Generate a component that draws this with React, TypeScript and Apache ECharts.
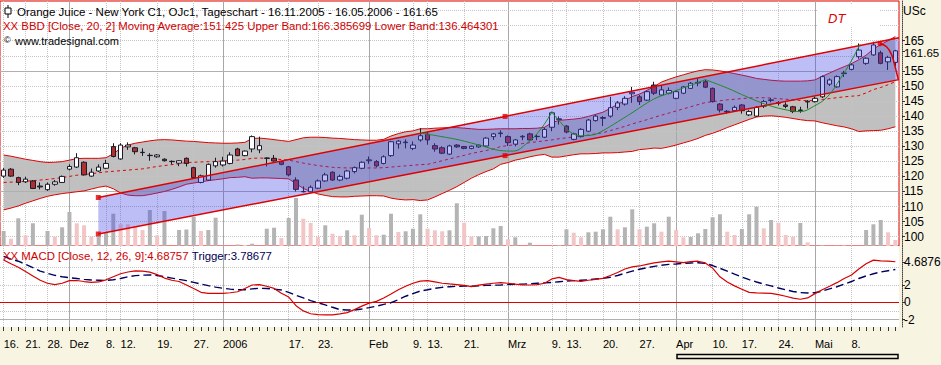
import React, { useEffect, useRef } from "react";
import * as echarts from "echarts";

// ---------- DATA ----------
const dates = [
  "2005-11-16","2005-11-17","2005-11-18","2005-11-21","2005-11-22","2005-11-23","2005-11-28","2005-11-29","2005-11-30",
  "2005-12-01","2005-12-02","2005-12-05","2005-12-06","2005-12-07","2005-12-08","2005-12-09","2005-12-12","2005-12-13","2005-12-14","2005-12-15","2005-12-16","2005-12-19","2005-12-20","2005-12-21","2005-12-22","2005-12-23","2005-12-27","2005-12-28","2005-12-29","2005-12-30",
  "2006-01-03","2006-01-04","2006-01-05","2006-01-06","2006-01-09","2006-01-10","2006-01-11","2006-01-12","2006-01-13","2006-01-17","2006-01-18","2006-01-19","2006-01-20","2006-01-23","2006-01-24","2006-01-25","2006-01-26","2006-01-27","2006-01-30","2006-01-31",
  "2006-02-01","2006-02-02","2006-02-03","2006-02-06","2006-02-07","2006-02-08","2006-02-09","2006-02-10","2006-02-13","2006-02-14","2006-02-15","2006-02-16","2006-02-17","2006-02-21","2006-02-22","2006-02-23","2006-02-24","2006-02-27","2006-02-28",
  "2006-03-01","2006-03-02","2006-03-03","2006-03-06","2006-03-07","2006-03-08","2006-03-09","2006-03-10","2006-03-13","2006-03-14","2006-03-15","2006-03-16","2006-03-17","2006-03-20","2006-03-21","2006-03-22","2006-03-23","2006-03-24","2006-03-27","2006-03-28","2006-03-29","2006-03-30","2006-03-31",
  "2006-04-03","2006-04-04","2006-04-05","2006-04-06","2006-04-07","2006-04-10","2006-04-11","2006-04-12","2006-04-13","2006-04-17","2006-04-18","2006-04-19","2006-04-20","2006-04-21","2006-04-24","2006-04-25","2006-04-26","2006-04-27","2006-04-28",
  "2006-05-01","2006-05-02","2006-05-03","2006-05-04","2006-05-05","2006-05-08","2006-05-09","2006-05-10","2006-05-11","2006-05-12","2006-05-15","2006-05-16"
];

const xLabels: [string, string][] = [
  ["2005-11-16","16."],["2005-11-21","21."],["2005-11-28","28."],["2005-12-01","Dez"],["2005-12-08","8."],["2005-12-12","12."],
  ["2005-12-19","19."],["2005-12-27","27."],["2006-01-03","2006"],["2006-01-17","17."],["2006-01-23","23."],["2006-02-01","Feb"],
  ["2006-02-09","9."],["2006-02-13","13."],["2006-02-21","21."],["2006-03-01","Mrz"],["2006-03-09","9."],["2006-03-13","13."],
  ["2006-03-20","20."],["2006-03-27","27."],["2006-04-03","Apr"],["2006-04-10","10."],["2006-04-17","17."],["2006-04-24","24."],
  ["2006-05-01","Mai"],["2006-05-08","8."]
];
const monthStarts = ["2005-12-01","2006-01-03","2006-02-01","2006-03-01","2006-04-03","2006-05-01"];

const opens = [120.1,122.4,119.6,118.2,118.5,116.8,115.6,117.4,118.0,122.4,
123.1,124.7,120.1,121.8,122.7,129.9,125.8,129.8,129.5,128.0,
127.0,126.5,125.7,125.0,124.4,126.0,122.9,118.0,118.8,123.5,
123.8,124.3,129.1,126.9,129.1,128.8,126.1,126.0,124.9,123.2,
118.8,115.0,114.9,116.1,118.5,121.4,118.8,119.4,121.6,122.7,
125.2,124.9,124.3,126.9,130.8,131.2,129.3,132.1,134.0,130.2,
129.5,127.4,130.4,129.9,129.3,129.8,130.1,133.2,134.2,133.2,
130.7,133.1,134.1,133.3,133.0,136.3,139.1,136.7,132.3,133.2,
135.0,138.5,139.5,140.0,142.9,144.0,147.4,146.4,145.3,150.3,
147.0,147.6,145.9,147.6,149.2,151.0,151.4,149.2,144.0,141.6,
141.8,143.7,140.4,140.0,143.3,145.2,144.5,143.7,143.1,142.0,
144.7,144.8,146.4,150.6,149.7,154.1,155.5,159.7,157.5,160.3,
161.0,158.0,157.8];

const closes = [122.1,120.1,118.0,119.1,116.0,116.5,117.4,118.2,120.0,123.3,
126.2,120.5,121.4,123.1,124.3,126.6,130.4,130.4,128.2,127.9,
126.9,127.1,125.2,124.9,125.2,124.3,119.6,120.2,124.0,124.9,
125.1,127.1,126.9,128.4,133.2,130.2,126.0,125.1,124.0,120.5,
115.7,114.9,116.4,118.5,120.5,118.8,120.0,121.8,122.9,124.7,
125.5,123.5,126.5,131.5,131.7,131.4,130.4,133.5,132.1,129.1,
127.7,130.1,129.8,129.3,130.0,130.4,132.7,134.1,134.4,131.2,
132.1,133.3,132.1,133.2,135.6,141.1,138.9,134.7,134.1,135.6,
138.7,140.0,139.3,142.8,144.4,145.9,147.9,144.8,148.1,147.6,
148.7,148.5,148.1,149.7,150.9,151.2,149.6,144.8,142.0,141.4,
142.9,141.8,141.5,142.9,144.8,145.4,144.3,143.2,141.5,141.9,
144.9,145.9,153.1,152.0,153.1,154.3,157.0,161.9,159.2,163.6,
157.5,159.5,161.65];

const lows = [119.5,119.8,117.1,117.8,115.8,115.7,115.2,116.9,117.8,122.0,
122.8,120.3,119.9,121.5,122.4,126.3,125.5,128.8,127.3,126.8,
125.2,126.2,124.9,124.0,123.4,123.3,119.3,117.7,118.5,122.9,
123.3,124.0,126.7,126.7,128.0,127.7,123.3,124.9,123.7,120.0,
115.0,114.7,114.6,115.8,118.2,118.5,118.4,119.0,121.0,122.4,
124.2,123.0,124.0,126.5,129.2,129.3,128.7,131.5,130.5,128.2,
127.4,127.1,129.5,129.0,129.0,129.5,129.8,132.1,133.0,130.1,
130.0,132.0,131.9,132.0,132.7,135.0,137.2,134.3,132.0,132.9,
134.7,138.2,136.7,139.5,142.0,143.5,144.4,143.7,145.0,147.0,
146.7,147.2,145.6,147.3,149.0,149.9,149.3,144.5,141.2,140.8,
141.4,140.8,140.0,139.7,142.7,144.6,143.5,142.6,141.0,141.1,
142.5,144.5,146.0,150.0,149.4,153.0,155.2,159.0,157.0,160.0,
157.2,155.3,156.5];

const highs = [122.8,122.8,119.9,119.9,118.8,118.0,118.0,118.8,120.3,124.0,
127.7,125.0,122.6,124.0,125.5,131.0,131.0,131.3,129.8,129.3,
127.7,127.4,126.0,125.3,125.3,126.3,123.2,120.6,124.3,126.2,
126.5,128.0,129.5,128.6,133.6,133.2,126.3,127.1,125.0,123.5,
119.7,116.7,117.0,119.0,121.2,121.7,120.6,122.2,123.3,125.0,
126.6,125.4,127.0,131.8,132.0,132.3,131.6,136.0,134.8,131.0,
130.0,130.5,130.7,130.1,130.2,130.6,133.0,134.4,135.3,133.6,
132.4,133.7,134.5,134.0,136.2,141.5,139.9,137.0,134.5,136.0,
139.0,140.5,140.0,146.4,145.0,146.6,149.7,147.0,148.5,151.4,
150.3,149.5,148.5,150.0,151.3,152.4,152.0,149.5,144.3,142.0,
143.5,144.0,142.0,143.3,145.4,146.0,145.0,144.6,143.4,143.1,
145.3,146.5,153.5,152.5,153.5,155.0,157.5,164.1,159.5,164.7,
161.7,160.0,162.0];

const volumes = [1500,730,2770,1070,2270,0,1500,930,1870,3400,
2270,2070,930,950,1330,3230,2170,2170,1930,1600,
3600,1070,3500,0,1600,1650,2930,1500,1600,2830,
0,0,150,100,230,0,1730,1830,800,2800,
4800,2730,2300,900,2070,1230,1000,1570,1070,3130,
1800,1070,1130,3230,1400,1470,1730,3170,1730,1570,
1470,1570,4270,2330,930,950,1000,1770,2000,670,
870,0,330,0,0,0,100,1670,1330,870,
1370,1430,1670,2930,1670,1870,3670,1670,1930,2270,
1430,2930,1600,870,900,1270,1700,2870,3170,1430,
1100,1700,3170,3930,1770,2600,2330,1100,900,2300,
370,0,100,0,50,50,0,0,1600,2170,
2600,1370,600];

const bbMiddle = [118.0,118.1,118.2,118.4,118.6,118.8,119.0,119.3,119.6,120.0,
120.4,120.6,120.9,121.2,121.5,121.7,121.9,122.1,122.3,122.5,
122.9,123.3,123.6,123.9,124.2,124.6,124.7,124.8,124.9,125.0,
125.1,125.3,125.4,125.6,126.0,126.1,126.0,125.8,125.6,125.4,
124.9,124.4,124.0,123.6,123.3,123.0,122.9,122.8,122.8,122.8,
122.8,122.8,122.9,123.1,123.3,123.5,123.7,123.9,124.0,124.6,
125.2,125.8,126.4,127.0,127.6,128.1,128.6,129.1,129.9,130.2,
130.6,130.9,131.2,131.5,131.8,132.1,132.5,132.8,133.1,133.4,
133.7,134.1,134.5,135.2,135.9,136.6,137.4,138.1,138.8,139.6,
140.3,141.0,141.7,142.4,143.1,143.8,144.5,144.8,145.1,145.4,
145.6,145.8,146.0,146.1,146.1,146.0,145.8,145.6,145.4,145.2,
145.1,145.2,145.5,145.8,146.1,146.4,146.6,146.8,147.7,148.8,
149.5,150.4,151.425];

const bbUpper = [127.1,126.7,126.2,125.7,125.3,124.9,124.6,124.7,124.9,125.4,
125.9,126.0,126.0,126.0,126.2,127.5,129.3,130.4,131.0,131.4,
131.8,132.1,132.2,132.1,131.9,131.7,131.6,131.4,131.2,131.1,
131.0,131.0,131.1,131.3,132.6,132.7,132.5,132.2,131.9,131.6,
132.2,132.8,133.0,133.0,132.9,132.7,132.6,132.4,132.2,132.1,
132.0,132.0,132.3,133.4,134.2,134.8,135.1,135.8,135.8,136.0,
136.1,136.2,136.2,136.0,135.8,135.6,135.6,135.7,135.8,135.8,
135.8,135.9,135.9,136.0,136.3,137.8,138.6,138.8,139.0,139.3,
139.9,140.6,141.3,142.6,143.9,145.1,146.5,147.3,148.5,149.8,
151.3,152.2,153.0,153.7,154.4,155.0,155.4,155.3,155.0,154.6,
154.1,153.6,153.1,152.5,152.2,151.9,151.7,151.6,151.6,151.6,
151.7,152.0,153.2,154.3,155.4,156.4,157.4,158.7,160.2,162.3,
163.7,165.0,166.385699];

const bbLower = [108.9,109.5,110.2,111.1,111.9,112.7,113.4,113.9,114.3,114.6,
114.9,115.2,115.8,116.4,116.8,115.9,114.5,113.8,113.6,113.6,
114.0,114.5,115.0,115.7,116.5,117.4,117.8,118.2,118.6,118.9,
119.2,119.6,119.7,119.9,119.4,119.5,119.5,119.4,119.3,119.2,
117.6,116.0,115.0,114.2,113.7,113.3,113.2,113.2,113.4,113.5,
113.6,113.6,113.5,112.8,112.4,112.2,112.3,112.0,112.2,113.2,
114.3,115.4,116.6,118.0,119.4,120.6,121.6,122.5,124.0,124.6,
125.4,125.9,126.5,127.0,127.3,126.4,126.4,126.8,127.2,127.5,
127.5,127.6,127.8,127.8,127.9,128.1,128.3,128.9,129.1,129.4,
129.3,129.8,130.4,131.1,131.8,132.6,133.6,134.3,135.2,136.2,
137.1,138.0,138.9,139.7,140.0,140.1,139.9,139.6,139.2,138.8,
138.5,138.4,137.8,137.3,136.8,136.4,135.8,134.9,135.1,135.2,
135.3,135.8,136.464301];

const macd = [4.89,4.45,4.05,3.55,3.05,2.55,2.2,2.05,2.2,2.5,
2.52,2.4,2.3,2.35,2.6,2.95,3.3,3.5,3.63,3.6,
3.48,3.2,2.8,2.55,2.4,2.0,1.6,1.15,1.03,1.03,
1.04,1.1,1.22,1.6,2.0,2.05,1.85,1.6,1.05,0.6,
-0.4,-1.0,-1.33,-1.42,-1.46,-1.45,-1.35,-1.2,-0.85,-0.45,
-0.1,0.1,0.5,0.95,1.45,1.85,2.2,2.45,2.5,2.35,
2.2,2.12,2.05,1.95,1.82,1.98,2.1,2.2,2.27,2.2,
2.1,2.02,2.0,2.05,2.2,2.7,2.88,2.62,2.5,2.42,
2.55,2.65,2.77,3.1,3.45,3.85,4.1,4.2,4.38,4.55,
4.68,4.77,4.68,4.58,4.7,4.75,4.55,3.95,2.95,2.35,
1.9,1.5,1.15,1.08,1.05,1.02,0.88,0.7,0.48,0.35,
0.5,1.0,1.45,1.85,2.27,2.75,3.15,3.85,4.45,4.88,
4.8,4.77,4.68757];

const trigger = [5.3,5.0,4.75,4.4,4.0,3.6,3.35,3.12,2.95,2.85,
2.75,2.65,2.58,2.55,2.52,2.6,2.75,2.95,3.08,3.14,
3.16,3.1,2.95,2.8,2.65,2.5,2.3,2.1,1.92,1.75,
1.62,1.52,1.45,1.45,1.55,1.62,1.6,1.52,1.42,1.15,
0.8,0.5,0.2,-0.05,-0.3,-0.58,-0.85,-0.9,-0.9,-0.78,
-0.62,-0.45,-0.25,-0.05,0.3,0.7,1.0,1.3,1.45,1.62,
1.73,1.8,1.85,1.88,1.85,1.9,1.95,1.98,2.0,2.05,
2.08,2.1,2.15,2.2,2.25,2.3,2.38,2.45,2.5,2.55,
2.6,2.7,2.77,2.9,3.1,3.35,3.6,3.82,4.0,4.15,
4.28,4.38,4.43,4.5,4.55,4.58,4.5,4.25,3.93,3.6,
3.25,2.92,2.62,2.35,2.1,1.9,1.65,1.45,1.25,1.12,
1.08,1.1,1.3,1.55,1.8,2.1,2.4,2.75,3.05,3.3,
3.5,3.65,3.78677];

// trend channel (bar-index position, price)
const channelX = [12.95, 68.6, 122.5];
const channelUpper = [113.0, 139.9, 166.0];
const channelLower = [100.9, 126.9, 152.1];

// hand-drawn arcs (bar-index position, price)
const arc1: [number, number][] = [[57,134.4],[59.7,133.3],[62.5,132.0],[65.2,130.3],[67.9,128.6],[69.7,128.4],[71.6,131.0],[73.4,135.4],[75,141.3]];
const arc2: [number, number][] = [[75,141.3],[75.8,139.0],[77.5,134.8],[78.9,133.5],[80.7,133.8],[82,135.2],[83.4,137.2],[86.1,141.3],[88.9,145.6],[90.8,147.4],[94.3,150.5],[96,152.1]];
const arc3: [number, number][] = [[96,152.1],[99,149.3],[101.7,146.4],[104.5,143.7],[107.2,142.0],[109,141.5],[110.8,143.2],[112.7,146.4],[114.5,152.5],[115.9,158.0],[117.2,163.9]];
const dtArc: [number, number][] = [[119.9,164.0],[120.8,163.0],[121.5,160.3],[121.9,157.0],[122.4,152.2]];

const priceTicks = [100,105,110,115,120,125,130,135,140,145,150,155,165];
const priceGridMinor = [100,105,110,120,125,130,135,140,145,150,160,165,170,175];
const priceGridMajor = [115,155];
const macdTicks = [-2,0,2];
const macdGridDotted = [4,2,-1];
const macdGridSolid = [-2];

const lastClose = 161.65;
const bbLegend = { ma: 151.425, up: 166.385699, lo: 136.464301 };
const macdLast = 4.68757;
const triggerLast = 3.78677;

// ---------- CHART ----------
const FONT = "'Liberation Sans', Arial, sans-serif";
const RED = "#e00000";
const HIDDEN_LINE = { color: "rgba(0,0,0,0)", width: 0 };

export default function App() {
  const ref = useRef<HTMLDivElement>(null);
  useEffect(() => {
    document.body.style.margin = "0";
    const chart = echarts.init(ref.current as HTMLDivElement, null, { renderer: "svg" });
    const labelMap: Record<string, string> = {};
    xLabels.forEach(([d, l]) => (labelMap[d] = l));
    const labelIdx = new Set(xLabels.map(([d]) => dates.indexOf(d)));
    const monthSet = new Set(monthStarts);
    const vLines = xLabels.map(([d]) => ({
      xAxis: d,
      lineStyle: monthSet.has(d)
        ? { color: "#a8a8a8", type: "solid", width: 1 }
        : { color: "#c4c4c4", type: "dotted", width: 1 },
    }));
    const priceH = [
      ...priceGridMinor.map((v) => ({ yAxis: v, lineStyle: { color: "#c4c4c4", type: "dotted", width: 1 } })),
      ...priceGridMajor.map((v) => ({ yAxis: v, lineStyle: { color: "#b0b0b0", type: "solid", width: 1 } })),
    ];
    const macdH = [
      ...macdGridDotted.map((v) => ({ yAxis: v, lineStyle: { color: "#c4c4c4", type: "dotted", width: 1 } })),
      ...macdGridSolid.map((v) => ({ yAxis: v, lineStyle: { color: "#b0b0b0", type: "solid", width: 1 } })),
    ];
    const n = dates.length;
    const xMin = -0.5, xMax = n - 0.5;

    const option: any = {
      animation: false,
      backgroundColor: "transparent",
      grid: [
        { left: 0, top: 1, width: 899, height: 245, show: true, backgroundColor: "#ffffff", borderColor: RED, borderWidth: 1 },
        { left: 0, top: 246, width: 899, height: 81, show: true, backgroundColor: "#ffffff", borderWidth: 0 },
      ],
      xAxis: [
        { type: "category", gridIndex: 0, data: dates, boundaryGap: true, show: false, axisLine: { onZero: false } },
        { type: "value", gridIndex: 0, min: xMin, max: xMax, show: false, axisLine: { onZero: false } },
        {
          type: "category", gridIndex: 1, data: dates, boundaryGap: true, position: "bottom",
          axisLine: { show: false, onZero: false },
          axisTick: { show: true, alignWithLabel: true, interval: 0, length: 4, lineStyle: { color: "#333" } },
          axisLabel: {
            interval: (idx: number) => labelIdx.has(idx),
            formatter: (v: string) => labelMap[v] || "",
            align: "left", fontSize: 11, color: "#000", fontFamily: FONT, margin: 11, hideOverlap: false,
          },
          splitLine: { show: false },
        },
      ],
      yAxis: [
        {
          type: "value", gridIndex: 0, position: "right", min: 96.92, max: 178.18, offset: 3,
          axisLine: { show: true, onZero: false, lineStyle: { color: "#444", type: "dotted" } },
          axisTick: { show: true, length: 3, customValues: [...priceTicks, lastClose], lineStyle: { color: "#333" } },
          axisLabel: { customValues: priceTicks, fontSize: 12, lineHeight: 10, color: "#000", fontFamily: FONT, margin: 2 },
          splitLine: { show: false },
        },
        { type: "value", gridIndex: 0, min: 0, max: 24500, show: false },
        {
          type: "value", gridIndex: 1, position: "right", min: -2.86, max: 6.51, offset: 3,
          axisLine: { show: true, onZero: false, lineStyle: { color: "#444", type: "dotted" } },
          axisTick: { show: true, length: 3, customValues: [...macdTicks, macdLast], lineStyle: { color: "#333" } },
          axisLabel: { customValues: macdTicks, fontSize: 12, lineHeight: 10, color: "#000", fontFamily: FONT, margin: 2 },
          splitLine: { show: false },
        },
      ],
      series: [
        // grid lines (price panel)
        {
          type: "line", xAxisIndex: 0, yAxisIndex: 0, data: dates.map(() => null), silent: true, z: 2,
          showSymbol: false,
          markLine: { silent: true, z: 2, symbol: ["none", "none"], label: { show: false }, animation: false, data: [...vLines, ...priceH] },
        },
        // Bollinger band fill
        {
          type: "custom", xAxisIndex: 0, yAxisIndex: 0, z: 1, silent: true,
          data: [[0, bbMiddle[0]]],
          renderItem: (params: any, api: any) => {
            const pts: number[][] = [];
            for (let i = 0; i < n; i++) pts.push(api.coord([i, bbUpper[i]]));
            for (let i = n - 1; i >= 0; i--) pts.push(api.coord([i, bbLower[i]]));
            return { type: "polygon", shape: { points: pts }, style: { fill: "#c0c0c0" } };
          },
        },
        // volume
        {
          type: "bar", xAxisIndex: 0, yAxisIndex: 1, barWidth: 4, z: 3, silent: true,
          data: volumes.map((v, i) => ({ value: v, itemStyle: { color: i === 0 || v > volumes[i - 1] ? "#b4b4b4" : "#f2c6c6" } })),
        },
        // Bollinger lines
        { type: "line", xAxisIndex: 0, yAxisIndex: 0, data: bbUpper, showSymbol: false, z: 4, silent: true, lineStyle: { color: RED, width: 1 } },
        { type: "line", xAxisIndex: 0, yAxisIndex: 0, data: bbLower, showSymbol: false, z: 4, silent: true, lineStyle: { color: RED, width: 1 } },
        { type: "line", xAxisIndex: 0, yAxisIndex: 0, data: bbMiddle, showSymbol: false, z: 4, silent: true, lineStyle: { color: RED, width: 1, type: [3, 3] } },
        // candles
        {
          type: "candlestick", xAxisIndex: 0, yAxisIndex: 0, z: 5, barWidth: 5, silent: true,
          data: opens.map((o, i) => [o, closes[i], lows[i], highs[i]]),
          itemStyle: { color: "#ffffff", color0: "#b03030", borderColor: "#1a1a2a", borderColor0: "#1a1a2a", borderWidth: 1 },
          markLine: {
            silent: true, z: 10, symbol: ["none", "none"], animation: false,
            data: [{ yAxis: lastClose }],
            lineStyle: HIDDEN_LINE,
            label: { show: true, position: "end", formatter: String(lastClose), color: "#000", fontSize: 11.5, lineHeight: 10, fontFamily: FONT, distance: 5, offset: [0, 2] },
          },
        },
        // trend channel fill
        {
          type: "custom", xAxisIndex: 1, yAxisIndex: 0, z: 6, silent: true,
          data: [[channelX[0], channelUpper[0]]],
          renderItem: (params: any, api: any) => {
            const k = channelX.length - 1;
            const pts = [
              api.coord([channelX[0], channelUpper[0]]),
              api.coord([channelX[k], channelUpper[k]]),
              api.coord([channelX[k], channelLower[k]]),
              api.coord([channelX[0], channelLower[0]]),
            ];
            return { type: "polygon", shape: { points: pts }, style: { fill: "rgba(70,70,230,0.35)" } };
          },
        },
        { type: "line", xAxisIndex: 1, yAxisIndex: 0, z: 7, silent: true, showSymbol: false, data: channelX.map((x, i) => [x, channelUpper[i]]), lineStyle: { color: RED, width: 1.5 } },
        { type: "line", xAxisIndex: 1, yAxisIndex: 0, z: 7, silent: true, showSymbol: false, data: channelX.map((x, i) => [x, channelLower[i]]), lineStyle: { color: RED, width: 1.5 } },
        {
          type: "scatter", xAxisIndex: 1, yAxisIndex: 0, z: 8, silent: true, symbol: "rect", symbolSize: 5,
          itemStyle: { color: RED },
          data: [0, 1].flatMap((i) => [[channelX[i], channelUpper[i]], [channelX[i], channelLower[i]]]),
        },
        // arcs
        ...[arc1, arc2, arc3].map((a) => ({
          type: "line", xAxisIndex: 1, yAxisIndex: 0, z: 7, silent: true, showSymbol: false, smooth: 0.4,
          data: a, lineStyle: { color: "#1f8a2a", width: 1 },
        })),
        { type: "line", xAxisIndex: 1, yAxisIndex: 0, z: 7, silent: true, showSymbol: false, smooth: 0.4, data: dtArc, lineStyle: { color: RED, width: 1.5 } },
        { type: "scatter", xAxisIndex: 1, yAxisIndex: 0, z: 8, silent: true, symbol: "circle", symbolSize: 5, itemStyle: { color: RED }, data: [dtArc[0]] },
        // MACD
        {
          type: "line", xAxisIndex: 2, yAxisIndex: 2, z: 4, silent: true, showSymbol: false,
          data: trigger, lineStyle: { color: "#000060", width: 1.4, type: [8, 4] },
        },
        {
          type: "line", xAxisIndex: 2, yAxisIndex: 2, z: 5, silent: true, showSymbol: false,
          data: macd, lineStyle: { color: "#d80000", width: 1.2 },
          markLine: {
            silent: true, z: 3, symbol: ["none", "none"], animation: false, label: { show: false },
            data: [
              ...vLines,
              ...macdH,
              { yAxis: 0, lineStyle: { color: RED, type: "solid", width: 1.2 } },
            ],
          },
        },
        // last MACD value label on the axis
        {
          type: "line", xAxisIndex: 2, yAxisIndex: 2, z: 10, silent: true, showSymbol: false,
          data: dates.map(() => null),
          markLine: {
            silent: true, z: 10, symbol: ["none", "none"], animation: false,
            data: [{ yAxis: macdLast }],
            lineStyle: HIDDEN_LINE,
            label: { show: true, position: "end", formatter: macdLast.toFixed(4), color: "#000", fontSize: 12, lineHeight: 10, fontFamily: FONT, distance: 5 },
          },
        },
      ],
      graphic: [
        { type: "line", z: 100, shape: { x1: 8, y1: 5, x2: 8, y2: 18 }, style: { stroke: "#000", lineWidth: 1 } },
        { type: "rect", z: 101, shape: { x: 5, y: 8, width: 6, height: 6 }, style: { fill: "#fff", stroke: "#000", lineWidth: 1 } },
        {
          type: "text", z: 100, x: 17, y: 12,
          style: { text: `Orange Juice - New York C1, OJc1, Tageschart - 16.11.2005 - 16.05.2006 - ${lastClose}`, fill: "#000", fontSize: 11.5, fontFamily: FONT, verticalAlign: "middle" },
        },
        {
          type: "text", z: 100, x: 3, y: 26,
          style: { text: `XX BBD [Close, 20, 2] Moving Average:${bbLegend.ma} Upper Band:${bbLegend.up} Lower Band:${bbLegend.lo}`, fill: "#d00000", fontSize: 11.4, fontFamily: FONT, verticalAlign: "middle" },
        },
        { type: "text", z: 100, x: 4, y: 40, style: { text: "©", fill: "#000", fontSize: 9, fontFamily: FONT, verticalAlign: "middle" } },
        { type: "text", z: 100, x: 15, y: 40.5, style: { text: "www.tradesignal.com", fill: "#000", fontSize: 11, fontFamily: FONT, verticalAlign: "middle" } },
        { type: "rect", z: 100, shape: { x: 818, y: 5, width: 62, height: 22 }, style: { fill: "#ffffff" } },
        { type: "text", z: 101, x: 828, y: 18, style: { text: "DT", fill: RED, fontSize: 13, fontStyle: "italic", fontFamily: FONT, verticalAlign: "middle" } },
        { type: "text", z: 100, x: 903, y: 11, style: { text: "USc", fill: "#000", fontSize: 12, fontFamily: FONT, verticalAlign: "middle" } },
        {
          type: "text", z: 100, x: 3, y: 256,
          style: {
            text: `{r|XX MACD [Close, 12, 26, 9]:${macdLast}} {b|Trigger:${triggerLast}}`,
            verticalAlign: "middle",
            rich: {
              r: { fill: "#d00000", fontSize: 11.4, fontFamily: FONT },
              b: { fill: "#000050", fontSize: 11.4, fontFamily: FONT },
            },
          },
        },
        { type: "rect", z: 100, shape: { x: 677, y: 354.5, width: 221, height: 4 }, style: { fill: "none", stroke: "#000", lineWidth: 1.5 } },
      ],
    };
    chart.setOption(option);
    return () => chart.dispose();
  }, []);
  return (
    <div
      ref={ref}
      style={{ position: "absolute", left: 0, top: 0, width: 941, height: 365, background: "#f8f4e2" }}
    />
  );
}
